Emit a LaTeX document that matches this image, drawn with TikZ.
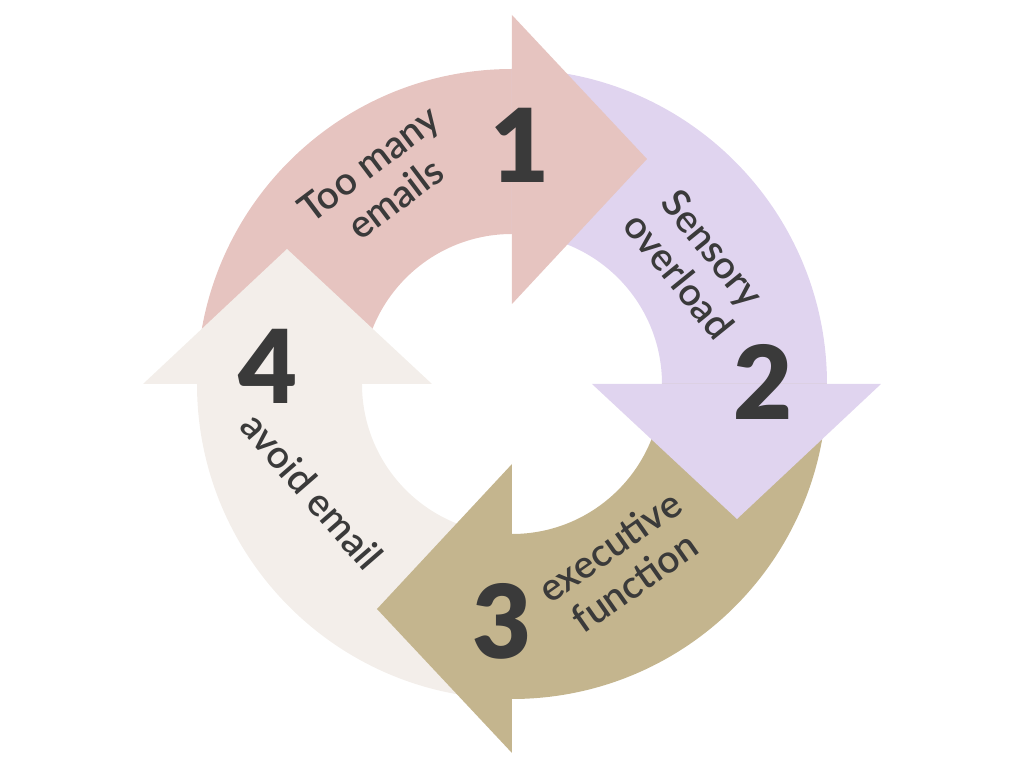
\documentclass[tikz,border=0pt]{standalone}
\usepackage{fontspec}
\setmainfont{Lato}
\newfontfamily\bignum{Lato Black}
\newfontfamily\semi{Lato Semibold}
\definecolor{rose}{HTML}{E6C4C0}
\definecolor{lilac}{HTML}{E0D4EF}
\definecolor{sand}{HTML}{C4B58E}
\definecolor{shell}{HTML}{F3EEEA}
\definecolor{ink}{HTML}{3A3A3A}
\tikzset{
    label/.style={text=ink,align=center,font=\semi\fontsize{11}{12.5}\selectfont},
    digit/.style={text=ink,font=\bignum\fontsize{29}{30}\selectfont}
}
\begin{document}
\begin{tikzpicture}
        \useasboundingbox (-5.12,-3.84) rectangle (5.12,3.84);
        \foreach \c/\r in {rose/0,lilac/-90,sand/-180,shell/-270} {
            \fill[\c,rotate=\r] (180:3.15) arc[start angle=180,end angle=90,radius=3.15]
                -- (90:1.5) arc[start angle=90,end angle=180,radius=1.5] -- cycle;
          }
        \foreach \c/\r in {rose/0,lilac/-90,sand/-180,shell/-270} {
            \fill[\c,rotate=\r] (0,0.8) -- (0,3.69) -- (1.35,2.25) -- cycle;
          }
        \node[label,rotate=37] (emails) at (-1.3,2.03) {Too many\\emails};
        \node[digit] (one) at (0.08,2.39) {1};
        \node[label,rotate=-51] (sensory) at (1.84,1.22) {Sensory\\overload};
        \node[digit] (two) at (2.51,0.02) {2};
        \node[label,rotate=35] (exec) at (1.1,-1.8) {executive\\function};
        \node[digit] (three) at (-0.10,-2.37) {3};
        \node[label,rotate=-49] (avoid) at (-2.0,-1.07) {avoid email};
        \node[digit] (four) at (-2.44,0.18) {4};
    \end{tikzpicture}
\end{document}
